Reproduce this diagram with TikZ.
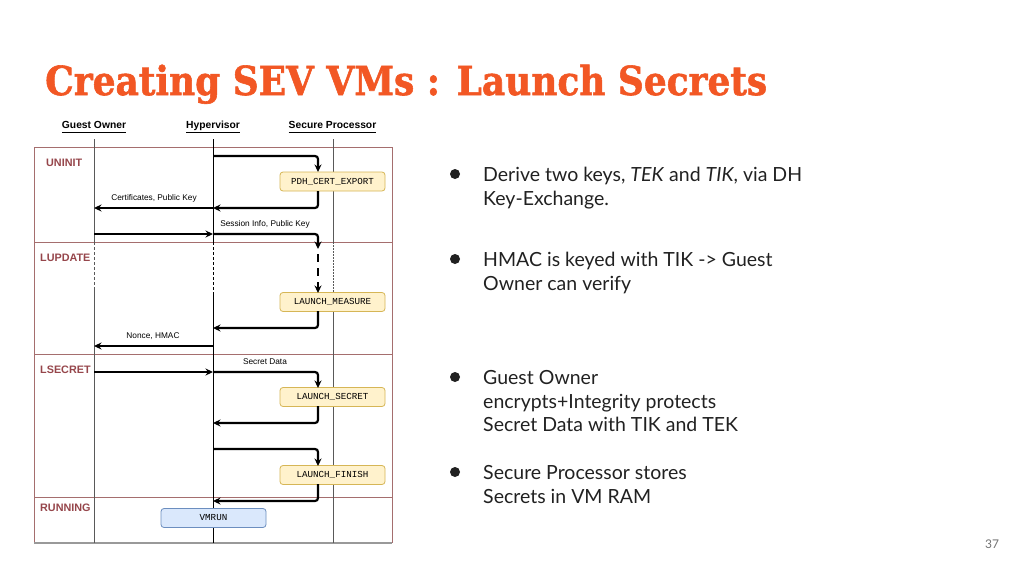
\documentclass[tikz,border=0pt]{standalone}
\usepackage{fontspec}
\setmainfont{Lato}
\newfontfamily\diagfont{Liberation Sans}
\newfontfamily\monofont{Liberation Mono}
\newfontfamily\titlefont[BoldFeatures={FakeBold=1.5}]{DejaVu Serif}
\usetikzlibrary{arrows.meta}
\definecolor{titleorange}{RGB}{242,87,36}
\definecolor{maroon}{RGB}{150,70,75}
\definecolor{frameline}{RGB}{165,110,110}
\definecolor{yfill}{RGB}{255,242,204}
\definecolor{ydraw}{RGB}{214,182,86}
\definecolor{bfill}{RGB}{218,232,252}
\definecolor{bdraw}{RGB}{108,142,191}
\definecolor{bodytext}{RGB}{33,33,33}
\tikzset{
  msg/.style={line width=2.2pt, rounded corners=3pt, -{Stealth[length=7.5pt,width=7pt]}},
  lifeline/.style={line width=0.8pt, draw=black!65},
  framel/.style={line width=0.8pt, draw=frameline},
  cmdbox/.style={draw=ydraw, fill=yfill, rounded corners=3pt, line width=0.8pt, minimum width=105pt, minimum height=19pt, inner sep=0pt, font=\monofont\fontsize{9.2}{10}\selectfont},
  runbox/.style={draw=bdraw, fill=bfill, rounded corners=3pt, line width=0.8pt, minimum width=105pt, minimum height=19pt, inner sep=0pt, font=\monofont\fontsize{9.2}{10}\selectfont},
  hdr/.style={font=\diagfont\bfseries\fontsize{10.3}{12}\selectfont, inner sep=0pt},
  phase/.style={font=\diagfont\bfseries\fontsize{10.8}{12}\selectfont, text=maroon, anchor=west, inner sep=0pt},
  lbl/.style={font=\diagfont\fontsize{8.3}{10}\selectfont, inner sep=0pt},
  bline/.style={font=\fontsize{19.5}{24}\selectfont, text=bodytext, anchor=base west, inner sep=0pt},
  dot/.style={circle, fill=bodytext, minimum size=10pt, inner sep=0pt},
}
\newcommand{\hdrline}[1]{\underline{\vphantom{Hyp}#1}}
\begin{document}
\begin{tikzpicture}[x=1pt, y=-1pt]
\useasboundingbox (0,0) rectangle (1024,576);
\fill[white] (0,0) rectangle (1024,576);

% title
\node[anchor=base west, inner sep=0pt, text=titleorange] (title) at (45,95)
  {\resizebox{722pt}{\height}{\titlefont\bfseries\fontsize{40}{44}\selectfont Creating SEV VMs : Launch Secrets}};

% frame
\draw[framel] (34,147) -- (392,147);
\draw[framel] (34,242) -- (392,242);
\draw[framel] (34,354) -- (392,354);
\draw[framel] (34,497) -- (392,497);
\draw[framel] (34,147) -- (34,543);
\draw[framel] (392,147) -- (392,543);
\draw[line width=1.6pt, draw=black!40] (34,543) -- (392,543);

% lifelines
\draw[lifeline] (94,139) -- (94,242);
\draw[lifeline, dash pattern=on 3pt off 2pt] (94,242) -- (94,288);
\draw[lifeline] (94,288) -- (94,543);
\draw[line width=0.8pt] (213,139) -- (213,242);
\draw[line width=0.8pt, dash pattern=on 3pt off 2pt] (213,242) -- (213,292);
\draw[line width=0.8pt] (213,292) -- (213,543);
\draw[lifeline] (333,139) -- (333,242);
\draw[lifeline, dash pattern=on 1.5pt off 1.5pt] (333,242) -- (333,293);
\draw[lifeline] (333,311) -- (333,543);

% headers
\node[hdr] (go) at (94,127) {\hdrline{Guest Owner}};
\node[hdr] (hv) at (213,127) {\hdrline{Hypervisor}};
\node[hdr] (sp) at (332.5,127) {\hdrline{Secure Processor}};

% phases
\node[phase] (uninit) at (46,163) {UNINIT};
\node[phase] (lupdate) at (40,258) {LUPDATE};
\node[phase] (lsecret) at (40,370) {LSECRET};
\node[phase] (running) at (40,508) {RUNNING};

% command boxes
\node[cmdbox] (pdh) at (332.5,181.5) {PDH\_CERT\_EXPORT};
\node[cmdbox] (meas) at (332.5,302) {LAUNCH\_MEASURE};
\node[cmdbox] (secr) at (332.5,397) {LAUNCH\_SECRET};
\node[cmdbox] (fin) at (332.5,475) {LAUNCH\_FINISH};
\node[runbox] (vmrun) at (213.5,518) {VMRUN};

% coordinates
\coordinate (hvA) at (213,156);
\coordinate (pdhin) at (318,172);
\coordinate (pdhout) at (318,191);
\coordinate (hvB) at (213,208);
\coordinate (goB) at (94,208);
\coordinate (goC) at (94,234);
\coordinate (hvC) at (213,234);
\coordinate (luA) at (318,249);
\coordinate (luB) at (318,254);
\coordinate (measin) at (318,293);
\coordinate (measout) at (318,311);
\coordinate (hvD) at (213,328);
\coordinate (hvE) at (213,346);
\coordinate (goE) at (94,346);
\coordinate (goF) at (94,372);
\coordinate (hvF) at (213,372);
\coordinate (secrin) at (318,388);
\coordinate (secrout) at (318,406);
\coordinate (hvG) at (213,423);
\coordinate (hvH) at (213,449);
\coordinate (finin) at (318,466);
\coordinate (finout) at (318,484);
\coordinate (hvI) at (213,501);

% messages
\draw[msg] (hvA) -| (pdhin);
\draw[msg] (pdhout) |- (hvB);
\draw[msg] (hvB) -- (goB);
\draw[msg] (goC) -- (hvC);
\draw[msg] (hvC) -| (luA);
\draw[msg, dash pattern=on 8pt off 6pt] (luB) -- (measin);
\draw[msg] (measout) |- (hvD);
\draw[msg] (hvE) -- (goE);
\draw[msg] (goF) -- (hvF);
\draw[msg] (hvF) -| (secrin);
\draw[msg] (secrout) |- (hvG);
\draw[msg] (hvH) -| (finin);
\draw[msg] (finout) |- (hvI);

% message labels
\node[lbl] (l1) at (154,198) {Certificates, Public Key};
\node[lbl] (l2) at (265,224) {Session Info, Public Key};
\node[lbl] (l3) at (153,336) {Nonce, HMAC};
\node[lbl] (l4) at (265,362) {Secret Data};

% bullets
\node[dot] (d1) at (455,174) {};
\node[bline] (t1a) at (483,181) {Derive two keys, \textit{TEK} and \textit{TIK}, via DH};
\node[bline] (t1b) at (483,205) {Key-Exchange.};
\node[dot] (d2) at (455,259) {};
\node[bline] (t2a) at (483,266) {HMAC is keyed with TIK -> Guest};
\node[bline] (t2b) at (483,290) {Owner can verify};
\node[dot] (d3) at (455,377) {};
\node[bline] (t3a) at (483,384) {Guest Owner};
\node[bline] (t3b) at (483,408) {encrypts+Integrity protects};
\node[bline] (t3c) at (483,431) {Secret Data with TIK and TEK};
\node[dot] (d4) at (455,472) {};
\node[bline] (t4a) at (483,479) {Secure Processor stores};
\node[bline] (t4b) at (483,503) {Secrets in VM RAM};

% page number
\node[font=\fontsize{12}{14}\selectfont, text=black!55, inner sep=0pt] (page) at (992,544) {37};
\end{tikzpicture}
\end{document}
